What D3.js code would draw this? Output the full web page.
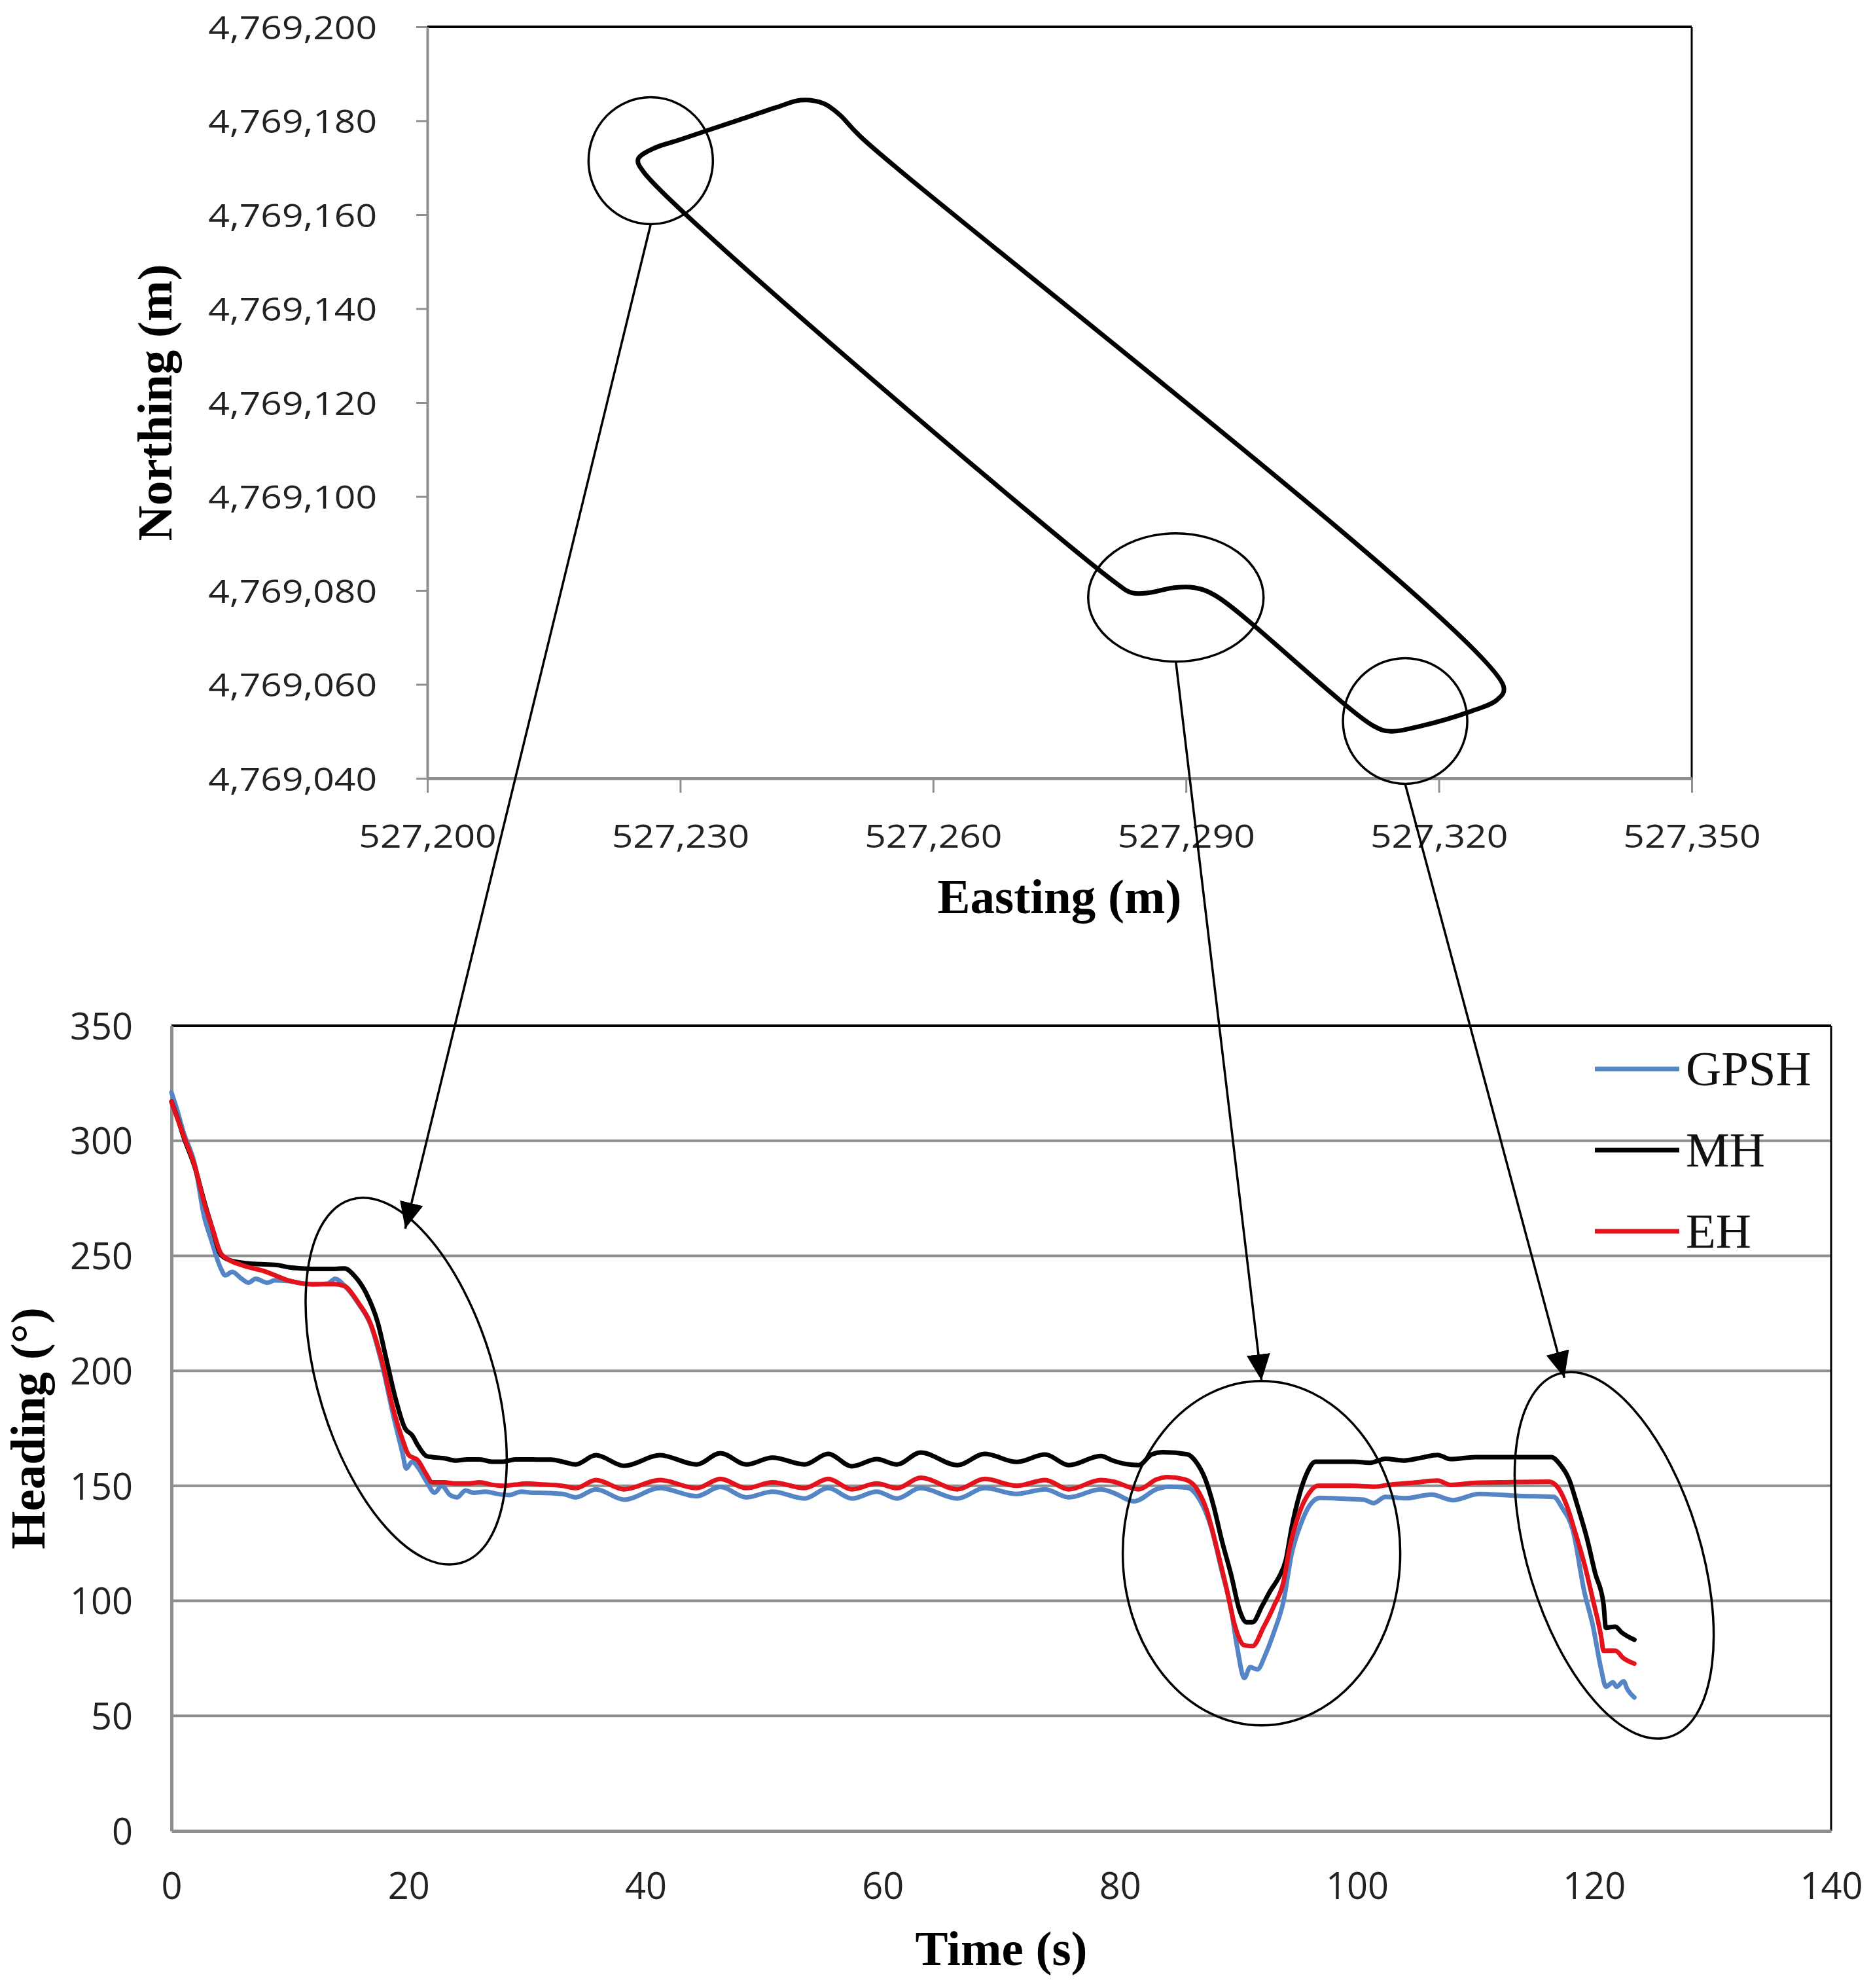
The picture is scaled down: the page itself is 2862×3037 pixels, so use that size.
<!DOCTYPE html>
<html>
<head>
<meta charset="utf-8">
<script src="https://cdn.jsdelivr.net/npm/d3@7"></script>
<style>
  html, body { margin: 0; padding: 0; background: #fff; }
  svg { display: block; }
</style>
</head>
<body>
<svg id="chart" width="2862" height="3037"></svg>
<script>
// ---------------- DATA ----------------
// Top chart: vehicle track (UTM)
const trackEasting  = [527225.0, 527226.7, 527230.0, 527237.0, 527241.5, 527244.3, 527247.0, 527248.9, 527251.4,
                       527327.7, 527326.9, 527323.7, 527317.8, 527314.3, 527312.3,
                       527293.5, 527291.0, 527288.6, 527285.6, 527283.6, 527281.6, 527225.7];
const trackNorthing = [4769171.8, 4769174.0, 4769176.0, 4769180.2, 4769182.9, 4769184.4, 4769183.7, 4769181.3, 4769176.6,
                       4769059.4, 4769056.7, 4769054.2, 4769051.1, 4769050.0, 4769051.1,
                       4769078.9, 4769080.6, 4769080.6, 4769079.5, 4769079.5, 4769081.7, 4769169.0];
const eastingTicks  = [527200, 527230, 527260, 527290, 527320, 527350];
const northingTicks = [4769040, 4769060, 4769080, 4769100, 4769120, 4769140, 4769160, 4769180, 4769200];

// Bottom chart: headings vs time
const timeTicks    = [0, 20, 40, 60, 80, 100, 120, 140];
const headingTicks = [0, 50, 100, 150, 200, 250, 300, 350];
const seriesNames  = ["GPSH", "MH", "EH"];

const timeGPSH = [0, 0.5, 1, 2, 2.76, 3.35, 4.14, 4.54, 5.13, 5.92, 6.5, 7.1, 8.1, 8.7, 9.9, 11, 12, 13.2, 13.8, 14.6,
  15.8, 16.8, 17.75, 18.74, 19.5, 19.8, 20.3, 20.8, 21.5, 22.2, 22.8, 23.5, 24.1, 24.8, 25.5, 26.5, 27.5, 28.5, 29.5, 30.5,
  31, 33, 34.1, 35.8, 38.2, 41.2, 44.3, 46.3, 48.5, 50.7, 53.4, 55.4, 57.4, 59.5, 61.2, 63.2, 66.3, 68.6, 71.3, 73.7, 75.7, 78.4,
  79.4, 81.2, 83.1, 84.0, 85.7, 86.8, 87.7, 88.6, 89.4, 89.9, 90.5, 91.0, 91.6, 92.3, 93.0, 93.8, 94.5, 95.3, 96.0, 96.9,
  98.8, 100.6, 101.4, 102.4, 104.1, 106.3, 108.1, 110.3, 113.7, 116.6, 117.3, 118.2, 119.2, 119.9, 120.6, 121.0, 121.6,
  121.9, 122.5, 122.8, 123.4];
const headingGPSH = [321, 313, 304, 289, 267, 257, 244.8, 241.5, 243, 240, 238.3, 240, 238.3, 239.3, 239, 238, 237.5, 238, 240, 237,
  229, 220, 203, 180, 164, 157.5, 160.5, 158, 152, 147, 150, 146, 145, 148, 147, 147.5, 146.5, 146, 147.5, 147,
  147, 146.5, 145, 148.5, 144, 149, 145.5, 149.5, 145, 147.5, 144.5, 149, 144.5, 147.5, 144.5, 149, 144.5, 149, 146.5, 148.5, 145, 148.5,
  147.1, 143.3, 148.5, 149.6, 149.2, 143.3, 132, 113, 95.9, 79.8, 66.5, 71.2, 70.2, 76.9, 86.4, 99.7, 120.6, 133.8, 141.4, 144.8,
  144.4, 144, 142.5, 145.2, 144.6, 146.2, 143.8, 146.5, 145.6, 145.2, 140.5, 131, 103.5, 89.3, 70.3, 62.7, 64.6,
  62.7, 65, 61.7, 58];

const timeMH = [0, 0.5, 1, 2, 2.8, 3.5, 4.1, 4.7, 5.9, 7, 8.9, 9.9, 11, 12, 13.8, 14.6, 15.4, 16.4, 17.4, 18.15, 18.9, 19.7,
  20.3, 20.8, 21.5, 22, 23, 24, 25, 26, 27, 28, 29, 30,
  31, 32, 33, 34.1, 35.8, 38.2, 41.2, 44.3, 46.3, 48.5, 50.7, 53.4, 55.4, 57.4, 59.5, 61.2, 63.2, 66.3, 68.6, 71.3, 73.7, 75.7, 78.4,
  79.4, 80.5, 81.6, 82.7, 83.6, 85.7, 86.4, 87.2, 87.9, 88.6, 89.4, 90.1, 90.7, 91.2, 92.0, 92.7, 93.4, 94.0, 94.5, 95.1, 95.8, 96.5,
  97.8, 99.7, 101.1, 102.4, 103.9, 105.5, 106.8, 107.9, 110, 113.7, 116.4, 117.1, 117.9, 118.6, 119.4, 120.1, 120.8, 121.0,
  121.8, 122.3, 123.4];
const headingMH = [317, 310, 302, 288, 273, 261, 251, 248.5, 247, 246.5, 246, 245, 244.5, 244.3, 244.3, 244.5, 241.5, 234, 221, 204.5, 188, 175,
  172, 167.5, 163, 162.5, 162, 161, 161.5, 161.5, 160.5, 160.5, 161.5, 161.5,
  161.4, 161.4, 160.5, 159.3, 163.3, 158.7, 163.3, 159.3, 164.2, 159.3, 162.3, 159.3, 163.9, 158.5, 161.6, 159.3, 164.5, 159, 163.9, 160.4, 163.6, 159, 163,
  161, 159.5, 159, 163.7, 164.6, 163.7, 160.6, 153, 141.4, 126.3, 111.1, 95.9, 90.7, 90.7, 97.8, 104.4, 110.1, 117.7, 132, 145.2, 155.7, 160.5,
  160.5, 160.5, 160, 161.8, 161, 162.3, 163.4, 161.6, 162.5, 162.5, 162.5, 159.5, 152.8, 141.4, 127.2, 112, 98.7, 88.3,
  88.8, 86.4, 83.1];

const timeEH = [0, 1, 2, 2.76, 3.45, 4.14, 4.73, 5.9, 7.9, 9.86, 11.83, 13.8, 14.6, 15.78, 16.77, 17.75, 18.74, 19.5,
  20, 20.8, 21.5, 22, 23, 24, 25, 26, 27, 28, 29, 30,
  31, 33, 34.1, 35.8, 38.2, 41.2, 44.3, 46.3, 48.5, 50.7, 53.4, 55.4, 57.4, 59.5, 61.2, 63.2, 66.3, 68.6, 71.3, 73.7, 75.7, 78.4,
  79.4, 81.6, 83.1, 84.0, 85.5, 86.4, 87.3, 88.2, 89.0, 89.7, 90.5, 91.2, 92.1, 93.0, 93.8, 94.3, 95.1, 96.0, 96.7,
  99.7, 101.5, 102.6, 104.8, 106.8, 107.9, 110, 113, 116.2, 117.0, 117.7, 118.4, 119.2, 119.9, 120.6, 120.8, 121.8, 122.5, 123.4];
const headingEH = [317, 302.5, 288.4, 273, 262, 251.3, 248.6, 246, 243.2, 239.3, 237.7, 237.7, 236.8, 229.5, 220.8, 204.5, 182.7, 170,
  163.5, 161, 155, 151.5, 151.5, 151, 151, 151.5, 150.5, 150, 150.5, 151,
  150.7, 150, 149, 152.5, 148.5, 152.5, 149, 153, 149, 151.5, 149, 153, 148.5, 151, 149, 153.5, 148.5, 153, 150, 152.5, 148.5, 152.5,
  151.9, 148.5, 152.8, 153.8, 152.8, 149.4, 139.8, 122.5, 105.4, 89.3, 80.7, 80.3, 88.3, 97.8, 108.2, 122.5, 137.6, 147.1, 150,
  150, 149.6, 150.4, 151.4, 152.3, 150.4, 151.3, 151.6, 151.8, 148.9, 141.4, 130, 115.8, 100.6, 84.5, 78.3, 78.3, 75, 72.7];

// ---------------- LAYOUT / STYLE ----------------
const colors = { GPSH: "#5585c5", MH: "#000000", EH: "#e3121b" };
const gridGray = "#8f8f8f";
const numFont = "'Open Sans', 'Noto Sans', sans-serif";
const serifFont = "'Liberation Serif', 'Times New Roman', serif";

const svg = d3.select("#chart");

// Scales
const xTop = d3.scaleLinear().domain([527200, 527350]).range([653, 2585]);
const yTop = d3.scaleLinear().domain([4769040, 4769200]).range([1189, 41]);
const xBot = d3.scaleLinear().domain([0, 140]).range([262, 2798]);
const yBot = d3.scaleLinear().domain([0, 350]).range([2797, 1567]);

// ============ TOP CHART ============
const gTop = svg.append("g");
gTop.append("line").attr("x1", xTop(527200)).attr("x2", xTop(527350)).attr("y1", yTop(4769200)).attr("y2", yTop(4769200))
  .attr("stroke", "#000").attr("stroke-width", 4);
gTop.append("line").attr("x1", xTop(527350)).attr("x2", xTop(527350)).attr("y1", yTop(4769200)).attr("y2", yTop(4769040))
  .attr("stroke", "#000").attr("stroke-width", 3);

const yAxisTop = gTop.append("g").attr("transform", `translate(${xTop(527200)},0)`)
  .call(d3.axisLeft(yTop).tickValues(northingTicks).tickFormat(d3.format(",")).tickSize(17).tickSizeOuter(0));
yAxisTop.select(".domain").attr("stroke", gridGray).attr("stroke-width", 4);
yAxisTop.selectAll(".tick line").attr("stroke", gridGray).attr("stroke-width", 3);
yAxisTop.selectAll("text").attr("x", 0).attr("dy", "0.36em")
  .attr("transform", "translate(-77,0) scale(1.14,1)")
  .style("font-family", numFont).style("font-size", "50px").attr("fill", "#222");

const xAxisTop = gTop.append("g").attr("transform", `translate(0,${yTop(4769040)})`)
  .call(d3.axisBottom(xTop).tickValues(eastingTicks).tickFormat(d3.format(",")).tickSize(22).tickSizeOuter(0));
xAxisTop.select(".domain").attr("stroke", gridGray).attr("stroke-width", 5);
xAxisTop.selectAll(".tick line").attr("stroke", gridGray).attr("stroke-width", 3);
xAxisTop.selectAll("text").attr("x", 0).attr("y", 106).attr("dy", 0)
  .attr("transform", "scale(1.14,1)")
  .style("font-family", numFont).style("font-size", "50px").attr("fill", "#222");

// Track
const trackPts = trackEasting.map((e, i) => [e, trackNorthing[i]]);
gTop.append("path")
  .datum(trackPts)
  .attr("d", d3.line().x(d => xTop(d[0])).y(d => yTop(d[1])).curve(d3.curveCatmullRomClosed.alpha(0.5)))
  .attr("fill", "none").attr("stroke", "#000").attr("stroke-width", 7).attr("stroke-linejoin", "round");

gTop.append("text").attr("x", (xTop(527200) + xTop(527350)) / 2).attr("y", 1395)
  .attr("text-anchor", "middle").style("font-family", serifFont).style("font-weight", "bold").style("font-size", "75px")
  .text("Easting (m)");
gTop.append("text").attr("transform", `translate(262,${(yTop(4769040) + yTop(4769200)) / 2}) rotate(-90)`)
  .attr("text-anchor", "middle").style("font-family", serifFont).style("font-weight", "bold").style("font-size", "75px")
  .text("Northing (m)");

// ============ BOTTOM CHART ============
const gBot = svg.append("g");
gBot.selectAll("line.grid").data(headingTicks.filter(v => v > 0 && v < 350)).enter().append("line")
  .attr("class", "grid")
  .attr("x1", xBot(0)).attr("x2", xBot(140)).attr("y1", d => yBot(d)).attr("y2", d => yBot(d))
  .attr("stroke", gridGray).attr("stroke-width", 4);
gBot.append("line").attr("x1", xBot(0)).attr("x2", xBot(140)).attr("y1", yBot(350)).attr("y2", yBot(350))
  .attr("stroke", "#000").attr("stroke-width", 4);
gBot.append("line").attr("x1", xBot(140)).attr("x2", xBot(140)).attr("y1", yBot(350)).attr("y2", yBot(0))
  .attr("stroke", "#000").attr("stroke-width", 3);

const yAxisBot = gBot.append("g").attr("transform", `translate(${xBot(0)},0)`)
  .call(d3.axisLeft(yBot).tickValues(headingTicks).tickSize(0).tickSizeOuter(0).tickPadding(59));
yAxisBot.select(".domain").attr("stroke", gridGray).attr("stroke-width", 5);
yAxisBot.selectAll("text").attr("dy", "0.36em")
  .style("font-family", numFont).style("font-size", "56px").attr("fill", "#222");

const xAxisBot = gBot.append("g").attr("transform", `translate(0,${yBot(0)})`)
  .call(d3.axisBottom(xBot).tickValues(timeTicks).tickSize(0).tickSizeOuter(0));
xAxisBot.select(".domain").attr("stroke", gridGray).attr("stroke-width", 5);
xAxisBot.selectAll("text").attr("y", 104).attr("dy", 0)
  .style("font-family", numFont).style("font-size", "56px").attr("fill", "#222");

const seriesData = {
  GPSH: timeGPSH.map((t, i) => [t, headingGPSH[i]]),
  MH: timeMH.map((t, i) => [t, headingMH[i]]),
  EH: timeEH.map((t, i) => [t, headingEH[i]])
};
const lineGen = d3.line().x(d => xBot(d[0])).y(d => yBot(d[1])).curve(d3.curveMonotoneX);
seriesNames.forEach(name => {
  gBot.append("path").datum(seriesData[name]).attr("d", lineGen)
    .attr("fill", "none").attr("stroke", colors[name]).attr("stroke-width", 7)
    .attr("stroke-linejoin", "round").attr("stroke-linecap", "round");
});

const legend = gBot.append("g");
seriesNames.forEach((name, i) => {
  const y = 1633 + i * 124;
  legend.append("line").attr("x1", 2437).attr("x2", 2566).attr("y1", y).attr("y2", y)
    .attr("stroke", colors[name]).attr("stroke-width", 7);
  legend.append("text").attr("x", 2576).attr("y", y + 25)
    .style("font-family", serifFont).style("font-size", "75px").attr("fill", "#111").text(name);
});

gBot.append("text").attr("x", (xBot(0) + xBot(140)) / 2).attr("y", 3002)
  .attr("text-anchor", "middle").style("font-family", serifFont).style("font-weight", "bold").style("font-size", "75px")
  .text("Time (s)");
gBot.append("text").attr("transform", `translate(68,${(yBot(0) + yBot(350)) / 2}) rotate(-90)`)
  .attr("text-anchor", "middle").style("font-family", serifFont).style("font-weight", "bold").style("font-size", "75px")
  .text("Heading (°)");

// ============ ANNOTATIONS ============
const topCircles = [
  { e: 527226.5, n: 4769171.5, rx: 95, ry: 97 },
  { e: 527288.8, n: 4769078.5, rx: 134, ry: 98 },
  { e: 527316.0, n: 4769052.2, rx: 95, ry: 96 }
];
const botEllipses = [
  { t: 19.8, h: 195.5, a: 290, b: 134, rot: -17 },
  { t: 91.95, h: 120.7, a: 263, b: 212, rot: 0 },
  { t: 121.7, h: 119.8, a: 290, b: 132, rot: -17 }
];
const arrowTips = [
  { t: 19.72, h: 261.8 },
  { t: 91.95, h: 195.8 },
  { t: 117.5, h: 197.0 }
];

const defs = svg.append("defs");
defs.append("marker").attr("id", "arrow").attr("markerUnits", "userSpaceOnUse")
  .attr("viewBox", "0 0 40 36").attr("markerWidth", 40).attr("markerHeight", 36)
  .attr("refX", 40).attr("refY", 18).attr("orient", "auto")
  .append("path").attr("d", "M0,0 L40,18 L0,36 Z").attr("fill", "#000");

const ann = svg.append("g");
topCircles.forEach(c => {
  ann.append("ellipse").attr("cx", xTop(c.e)).attr("cy", yTop(c.n)).attr("rx", c.rx).attr("ry", c.ry)
    .attr("fill", "none").attr("stroke", "#000").attr("stroke-width", 3.5);
});
botEllipses.forEach(el => {
  ann.append("ellipse").attr("cx", 0).attr("cy", 0).attr("rx", el.b).attr("ry", el.a)
    .attr("transform", `translate(${xBot(el.t)},${yBot(el.h)}) rotate(${el.rot})`)
    .attr("fill", "none").attr("stroke", "#000").attr("stroke-width", 3.5);
});
topCircles.forEach((c, i) => {
  const x1 = xTop(c.e), y1 = yTop(c.n) + c.ry;
  const x2 = xBot(arrowTips[i].t), y2 = yBot(arrowTips[i].h);
  ann.append("line").attr("x1", x1).attr("y1", y1).attr("x2", x2).attr("y2", y2)
    .attr("stroke", "#000").attr("stroke-width", 3.5).attr("marker-end", "url(#arrow)");
});
</script>
</body>
</html>
